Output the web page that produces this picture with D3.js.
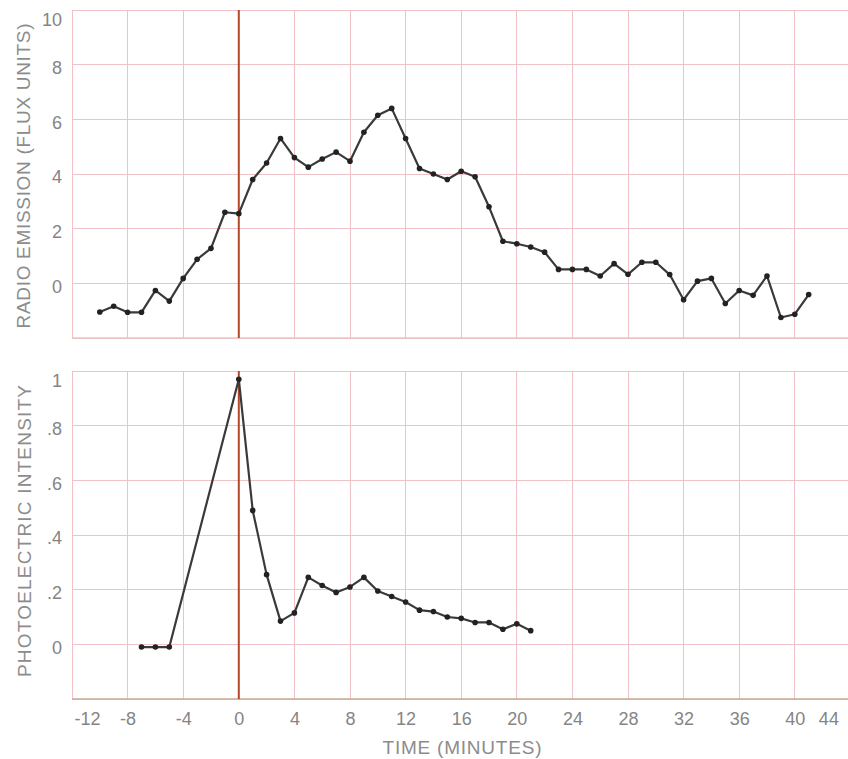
<!DOCTYPE html>
<html lang="en">
<head>
    <meta charset="UTF-8">
    <title>Radio emission and photoelectric intensity</title>
    <script src="https://d3js.org/d3.v7.min.js"></script>
    <style>
        body {
            margin: 0;
            padding: 0;
            background-color: #fff;
        }
        svg {
            display: block;
        }
        .tick-label {
            font-family: "Liberation Sans", Arial, sans-serif;
            font-size: 18px;
            fill: #858585;
        }
        .axis-title {
            font-family: "Liberation Sans", Arial, sans-serif;
            font-size: 19px;
            fill: #8c8c8c;
        }
        .grid line {
            stroke: #f0c2c8;
            stroke-width: 1;
            shape-rendering: crispEdges;
        }
    </style>
</head>
<body>
    <div id="chart"></div>

    <script>
        const W = 848, H = 759;

        // x ticks (minutes)
        const timeTicks = [-12, -8, -4, 0, 4, 8, 12, 16, 20, 24, 28, 32, 36, 40, 44];

        // top panel: radio emission (flux units), one reading per minute
        const radioTime = [-10, -9, -8, -7, -6, -5, -4, -3, -2, -1, 0, 1, 2, 3, 4, 5, 6, 7, 8, 9,
            10, 11, 12, 13, 14, 15, 16, 17, 18, 19, 20, 21, 22, 23, 24, 25, 26, 27, 28, 29,
            30, 31, 32, 33, 34, 35, 36, 37, 38, 39, 40, 41];
        const radioFlux = [-1.05, -0.84, -1.06, -1.06, -0.26, -0.65, 0.18, 0.88, 1.28, 2.6,
            2.55, 3.8, 4.4, 5.3, 4.6, 4.25, 4.55, 4.8, 4.47, 5.53,
            6.15, 6.4, 5.3, 4.2, 4.0, 3.8, 4.1, 3.9, 2.8, 1.54,
            1.45, 1.33, 1.14, 0.51, 0.51, 0.51, 0.27, 0.72, 0.33, 0.77,
            0.77, 0.32, -0.6, 0.08, 0.18, -0.74, -0.26, -0.44, 0.27, -1.25,
            -1.13, -0.41];
        const radioTicks = [0, 2, 4, 6, 8, 10];

        // bottom panel: photoelectric intensity
        const photoTime = [-7, -6, -5, 0, 1, 2, 3, 4, 5, 6, 7, 8, 9, 10, 11, 12, 13, 14, 15, 16,
            17, 18, 19, 20, 21];
        const photoIntensity = [-0.01, -0.01, -0.01, 0.97, 0.49, 0.255, 0.085, 0.115, 0.245, 0.215,
            0.19, 0.21, 0.245, 0.195, 0.175, 0.155, 0.125, 0.12, 0.1, 0.095,
            0.08, 0.08, 0.055, 0.075, 0.05];
        const photoTicks = [0, 0.2, 0.4, 0.6, 0.8, 1];

        const svg = d3.select("#chart")
            .append("svg")
            .attr("width", W)
            .attr("height", H);

        const x = d3.scaleLinear()
            .domain([-12, 44])
            .range([72, 72 + 56 * 13.9]);

        const yTop = d3.scaleLinear()
            .domain([-2, 10])
            .range([338, 10]);

        const yBot = d3.scaleLinear()
            .domain([-0.2, 1])
            .range([699, 371]);

        function drawPanel(y, gridVals, tickVals, fmt, xs, ys, bottomColor) {
            const [y0, y1] = y.range();
            const g = svg.append("g");

            // vertical grid
            g.append("g").attr("class", "grid")
                .selectAll("line")
                .data(timeTicks)
                .enter()
                .append("line")
                .attr("x1", d => x(d)).attr("x2", d => x(d))
                .attr("y1", y0).attr("y2", y1);

            // horizontal grid
            g.append("g").attr("class", "grid")
                .selectAll("line")
                .data(gridVals)
                .enter()
                .append("line")
                .attr("x1", x(-12)).attr("x2", x(44))
                .attr("y1", d => y(d)).attr("y2", d => y(d));

            // bottom border
            g.append("line")
                .attr("x1", x(-12)).attr("x2", x(44))
                .attr("y1", y0).attr("y2", y0)
                .attr("stroke", bottomColor)
                .attr("stroke-width", 1.5);

            // zero time marker
            g.append("line")
                .attr("x1", x(0)).attr("x2", x(0))
                .attr("y1", y0).attr("y2", y1)
                .attr("stroke", "#b5472c")
                .attr("stroke-width", 2);

            // y axis labels
            const ax = g.append("g")
                .attr("transform", "translate(62,0)")
                .call(d3.axisLeft(y).tickValues(tickVals).tickSize(0).tickPadding(0).tickFormat(fmt));
            ax.select(".domain").remove();
            ax.selectAll("text")
                .attr("class", "tick-label")
                .attr("fill", null)
                .attr("font-size", null)
                .attr("font-family", null)
                .attr("y", (d, i) => i === tickVals.length - 1 ? 10 : 3);

            // data
            const pts = xs.map((t, i) => [t, ys[i]]);
            g.append("path")
                .datum(pts)
                .attr("fill", "none")
                .attr("stroke", "#3a3a3a")
                .attr("stroke-width", 2.2)
                .attr("stroke-linejoin", "round")
                .attr("d", d3.line().x(d => x(d[0])).y(d => y(d[1])));

            g.selectAll(".dot")
                .data(pts)
                .enter()
                .append("circle")
                .attr("cx", d => x(d[0]))
                .attr("cy", d => y(d[1]))
                .attr("r", 2.8)
                .attr("fill", "#222");
        }

        drawPanel(yTop, [-2, 0, 2, 4, 6, 8, 10], radioTicks, d => String(d),
            radioTime, radioFlux, "#eec3c6");

        drawPanel(yBot, [-0.2, 0, 0.2, 0.4, 0.6, 0.8, 1], photoTicks,
            d => d === 0 ? "0" : d === 1 ? "1" : d3.format(".1f")(d).replace(/^0/, ""),
            photoTime, photoIntensity, "#cfa898");

        // x axis labels
        const xa = svg.append("g")
            .attr("transform", "translate(0,709)")
            .call(d3.axisBottom(x).tickValues(timeTicks).tickSize(0).tickPadding(0).tickFormat(d => String(d)));
        xa.select(".domain").remove();
        xa.selectAll("text")
            .attr("class", "tick-label")
            .attr("fill", null)
            .attr("font-size", null)
            .attr("font-family", null)
            .attr("dy", "0.9em")
            .style("text-anchor", (d, i) => i === 0 ? "start" : i === timeTicks.length - 1 ? "end" : "middle")
            .attr("x", (d, i) => i === 0 ? 2 : i === timeTicks.length - 1 ? -12 : 0);

        // axis titles
        svg.append("text")
            .attr("class", "axis-title")
            .attr("text-anchor", "middle")
            .attr("transform", "translate(462,754)")
            .attr("textLength", 159)
            .attr("lengthAdjust", "spacing")
            .text("TIME (MINUTES)");

        svg.append("text")
            .attr("class", "axis-title")
            .attr("text-anchor", "middle")
            .attr("transform", "translate(30,176) rotate(-90)")
            .attr("textLength", 305)
            .attr("lengthAdjust", "spacing")
            .text("RADIO EMISSION (FLUX UNITS)");

        svg.append("text")
            .attr("class", "axis-title")
            .attr("text-anchor", "middle")
            .attr("transform", "translate(31,531) rotate(-90)")
            .attr("textLength", 292)
            .attr("lengthAdjust", "spacing")
            .text("PHOTOELECTRIC INTENSITY");
    </script>
</body>
</html>
